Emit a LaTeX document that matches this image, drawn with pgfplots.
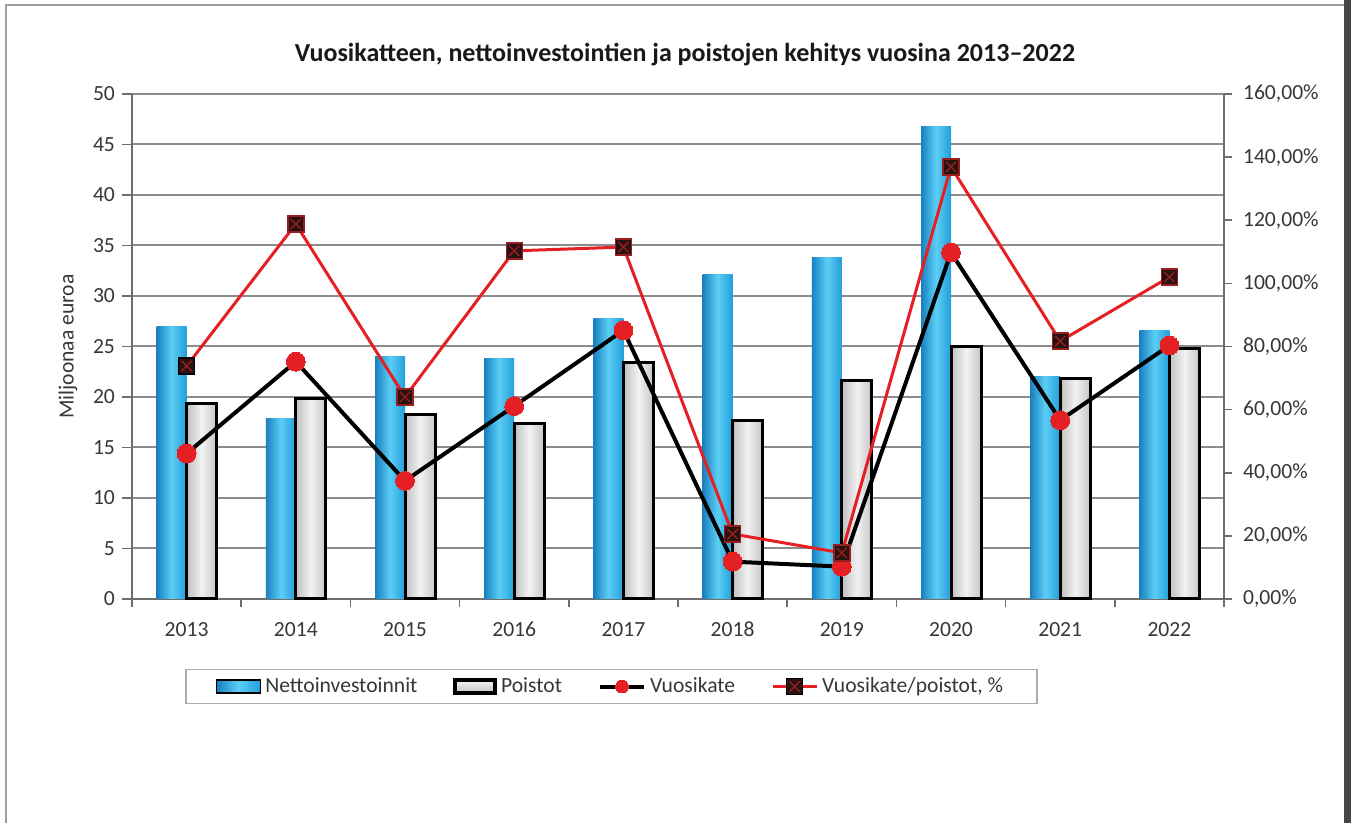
\documentclass[border=0pt]{standalone}
\usepackage{fontspec}
\setmainfont{Carlito}
\usepackage{pgfplots}
\pgfplotsset{compat=1.18}

\definecolor{blDark}{RGB}{24,128,192}
\definecolor{blLight}{RGB}{92,206,245}
\definecolor{blRight}{RGB}{34,158,218}
\definecolor{redline}{RGB}{228,32,36}
\definecolor{markfill}{RGB}{40,18,18}
\definecolor{markx}{RGB}{150,30,30}
\definecolor{txtgray}{RGB}{55,55,55}
\definecolor{axisgray}{RGB}{110,110,110}
\definecolor{gridgray}{RGB}{140,140,140}

\pgfdeclareplotmark{sqx}{%
  \pgfpathrectangle{\pgfpoint{-\pgfplotmarksize}{-\pgfplotmarksize}}{\pgfpoint{2\pgfplotmarksize}{2\pgfplotmarksize}}%
  \pgfusepathqfillstroke
  \pgfsetstrokecolor{markx}%
  \pgfsetlinewidth{0.7pt}%
  \pgfpathmoveto{\pgfpoint{-0.65\pgfplotmarksize}{-0.65\pgfplotmarksize}}%
  \pgfpathlineto{\pgfpoint{0.65\pgfplotmarksize}{0.65\pgfplotmarksize}}%
  \pgfpathmoveto{\pgfpoint{-0.65\pgfplotmarksize}{0.65\pgfplotmarksize}}%
  \pgfpathlineto{\pgfpoint{0.65\pgfplotmarksize}{-0.65\pgfplotmarksize}}%
  \pgfusepathqstroke
}

% one bar per call so that every bar gets its own cylinder shading
\newcommand{\nbar}[2]{\addplot[ybar, bar width=15pt, bar shift=-7.5pt, draw=none,
  left color=blDark, right color=blRight, middle color=blLight, forget plot] coordinates {(#1,#2)};}
\newcommand{\pbar}[2]{\addplot[ybar, bar width=15pt, bar shift=7.5pt, draw=black, line width=1.5pt,
  left color=gray!50, right color=gray!45, middle color=gray!10, forget plot] coordinates {(#1,#2)};}

\begin{document}
\begin{tikzpicture}
% canvas 1351x823 px at 0.5pt per px
\fill[white] (0pt,0pt) rectangle (675.5pt,411.5pt);
\fill[black!72] (672pt,0pt) rectangle (675.5pt,411.5pt);
\draw[gray!75, line width=1pt] (3pt,0pt) -- (3pt,409pt) -- (672pt,409pt);

\node[font=\bfseries\fontsize{13}{15}\selectfont, text=black!90] at (342.5pt,384pt)
  {Vuosikatteen, nettoinvestointien ja poistojen kehitys vuosina 2013–2022};

\begin{axis}[
  at={(66pt,112pt)}, anchor=south west,
  scale only axis, width=546pt, height=252.5pt,
  xmin=-0.5, xmax=9.5, ymin=0, ymax=50,
  axis y line*=left, axis x line*=bottom,
  axis line style={draw=axisgray, line width=1pt, -},
  ytick={0,5,...,50},
  xtick={0,...,9},
  xticklabels={2013,2014,2015,2016,2017,2018,2019,2020,2021,2022},
  minor xtick={-0.5,0.5,...,9.5},
  major x tick style={draw=none},
  minor x tick style={draw=axisgray, line width=0.8pt},
  minor tick length=4pt,
  major tick length=5pt,
  tick align=outside,
  y tick style={draw=axisgray, line width=0.8pt},
  ymajorgrids, grid style={draw=gridgray, line width=1pt},
  tick label style={font=\fontsize{10.8}{12}\selectfont, text=txtgray},
  xticklabel style={yshift=-3pt},
  /pgf/number format/assume math mode=true,
  ylabel={Miljoonaa euroa},
  every axis y label/.style={at={(axis description cs:-0.0586,0.5)}, rotate=90, anchor=center, font=\fontsize{10.8}{12}\selectfont, text=txtgray},
  clip=false,
]
% Nettoinvestoinnit
\nbar{0}{27.0}\nbar{1}{17.9}\nbar{2}{24.0}\nbar{3}{23.8}\nbar{4}{27.8}
\nbar{5}{32.1}\nbar{6}{33.8}\nbar{7}{46.8}\nbar{8}{22.0}\nbar{9}{26.6}
% Poistot
\pbar{0}{19.4}\pbar{1}{19.9}\pbar{2}{18.3}\pbar{3}{17.4}\pbar{4}{23.4}
\pbar{5}{17.7}\pbar{6}{21.6}\pbar{7}{25.0}\pbar{8}{21.8}\pbar{9}{24.8}
% Vuosikate
\addplot[black, line width=2pt, mark=*, mark size=4.7pt, mark options={fill=redline, draw=redline, line width=0pt}]
  coordinates {(0,14.4) (1,23.5) (2,11.7) (3,19.1) (4,26.6) (5,3.7) (6,3.2) (7,34.3) (8,17.7) (9,25.1)};
\end{axis}

\begin{axis}[
  at={(66pt,112pt)}, anchor=south west,
  scale only axis, width=546pt, height=252.5pt,
  xmin=-0.5, xmax=9.5, ymin=0, ymax=160,
  axis y line*=right, axis x line=none,
  axis line style={draw=axisgray, line width=1pt, -},
  ytick={0,20,...,160},
  yticklabels={{0,00\%},{20,00\%},{40,00\%},{60,00\%},{80,00\%},{100,00\%},{120,00\%},{140,00\%},{160,00\%}},
  tick align=outside, major tick length=4pt,
  y tick style={draw=axisgray, line width=0.8pt},
  tick label style={font=\fontsize{10.8}{12}\selectfont, text=txtgray},
  yticklabel style={xshift=2pt},
  clip=false,
  legend columns=4,
  legend style={at={(rel axis cs:0.4390,-0.1733)}, anchor=center,
    draw=gray!65, line width=0.8pt, font=\fontsize{10.8}{12}\selectfont,
    text=txtgray, inner xsep=15pt, inner ysep=2pt,
    /tikz/every even column/.append style={column sep=16pt}},
  legend cell align=left,
  legend image code/.code={\draw[mark repeat=2,mark phase=2,#1] plot coordinates {(0pt,0pt) (11pt,0pt) (22pt,0pt)};},
]
\addlegendimage{legend image code/.code={\fill[left color=blDark, right color=blRight, middle color=blLight] (0pt,-3.2pt) rectangle (22pt,3.2pt);}}
\addlegendentry{Nettoinvestoinnit}
\addlegendimage{legend image code/.code={\draw[black, line width=1.8pt, top color=gray!10, bottom color=gray!45] (1pt,-3.2pt) rectangle (21pt,3.2pt);}}
\addlegendentry{Poistot}
\addlegendimage{black, line width=2pt, mark=*, mark size=3.2pt, mark options={fill=redline, draw=redline, line width=0pt}}
\addlegendentry{Vuosikate}
\addplot[redline, line width=1.5pt, mark=sqx, mark size=4pt, mark options={fill=markfill, draw=black, line width=0.6pt}]
  coordinates {(0,73.8) (1,118.8) (2,64.0) (3,110.3) (4,111.5) (5,20.6) (6,14.6) (7,136.9) (8,81.7) (9,102.0)};
\addlegendentry{Vuosikate/poistot, \%}
\end{axis}
\end{tikzpicture}
\end{document}
